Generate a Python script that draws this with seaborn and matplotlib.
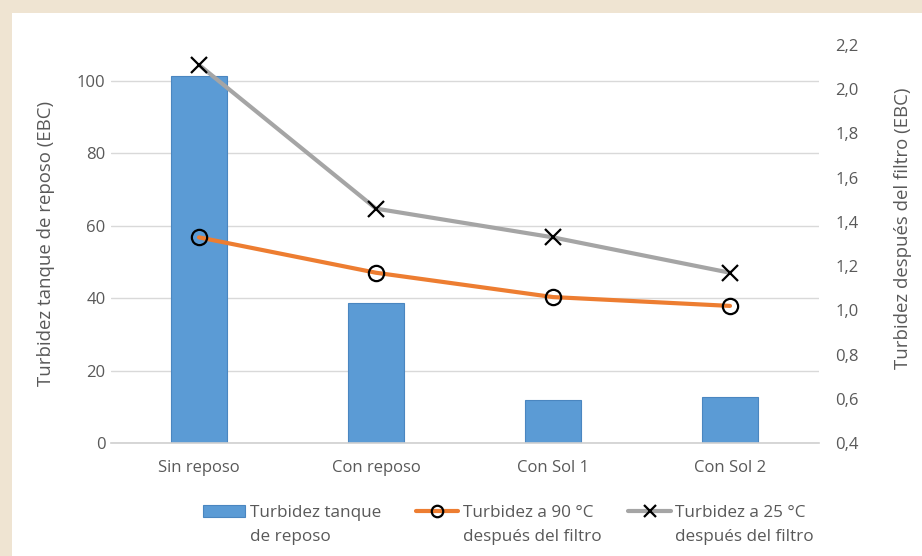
import numpy as np
import pandas as pd
import seaborn as sns
import matplotlib.pyplot as plt
from matplotlib.patches import Rectangle

# data
categories = ["Sin reposo", "Con reposo", "Con Sol 1", "Con Sol 2"]
tanque = [101.2, 38.5, 12.0, 12.8]
filtro_90 = [1.33, 1.17, 1.06, 1.02]
filtro_25 = [2.11, 1.46, 1.33, 1.17]

left_ticks = [0, 20, 40, 60, 80, 100]
right_ticks = [0.4, 0.6, 0.8, 1.0, 1.2, 1.4, 1.6, 1.8, 2.0, 2.2]

# legend labels, split in two lines like the original
legend_first = ["Turbidez tanque", "Turbidez a 90 °C", "Turbidez a 25 °C"]
legend_second = ["de reposo", "después del filtro", "después del filtro"]

BLUE = "#5B9BD5"
ORANGE = "#ED7D31"
GRAY = "#A5A5A5"
TXT = "#595959"
BEIGE = "#EFE4D2"

sns.set_style("white")
plt.rcParams["font.family"] = ["Open Sans", "DejaVu Sans"]

fig = plt.figure(figsize=(9.22, 5.56), dpi=100)
# beige frame on top and left
fig.patches.append(Rectangle((0, 0), 1, 1, transform=fig.transFigure,
                             facecolor=BEIGE, edgecolor="none", zorder=-10))
fig.patches.append(Rectangle((12 / 922, 0), 1, 1 - 13 / 556, transform=fig.transFigure,
                             facecolor="white", edgecolor="none", zorder=-9))

ax = fig.add_axes([110.5 / 922, 113 / 556, 708 / 922, 398 / 556])
ax.set_facecolor("none")

df = pd.DataFrame({"cat": categories, "tanque": tanque})
sns.barplot(data=df, x="cat", y="tanque", color=BLUE, width=0.32,
            edgecolor="#4A86C0", linewidth=0.8, saturation=1, ax=ax,
            label=legend_first[0])

ax.set_ylim(0, 109.8)
ax.set_xlim(-0.5, 3.5)
ax.set_yticks(left_ticks)
ax.grid(axis="y", color="#D9D9D9", linewidth=1)
ax.set_axisbelow(True)
for s in ["top", "right", "left"]:
    ax.spines[s].set_visible(False)
ax.spines["bottom"].set_color("#D0D0D0")
ax.spines["bottom"].set_linewidth(1.2)
ax.tick_params(axis="both", length=0, colors=TXT, labelsize=12)
ax.tick_params(axis="x", pad=12)
ax.set_xlabel("")
ax.set_ylabel("Turbidez tanque de reposo (EBC)", color=TXT, fontsize=13.4, labelpad=16)

ax2 = ax.twinx()
xpos = np.arange(len(categories))
sns.lineplot(x=xpos, y=filtro_90, color=ORANGE, linewidth=3, marker="o",
             markersize=11, markerfacecolor="none", markeredgecolor="black",
             markeredgewidth=1.6, ax=ax2, label=legend_first[1])
sns.lineplot(x=xpos, y=filtro_25, color=GRAY, linewidth=3, marker="x",
             markersize=11, markeredgecolor="black", markeredgewidth=1.6,
             ax=ax2, label=legend_first[2])
ax2.set_ylim(0.4, 2.2)
ax2.set_yticks(right_ticks)
ax2.set_yticklabels([f"{t:.1f}".replace(".", ",") for t in right_ticks])
for s in ["top", "right", "left", "bottom"]:
    ax2.spines[s].set_visible(False)
ax2.tick_params(axis="y", length=0, colors=TXT, labelsize=12, pad=12)
ax2.set_ylabel("Turbidez después del filtro (EBC)", color=TXT, fontsize=13.4)
ax2.yaxis.set_label_coords(1.107, 0.54)
ax2.grid(False)
ax2.get_legend().remove()

h1, l1 = ax.get_legend_handles_labels()
h2, l2 = ax2.get_legend_handles_labels()
leg = ax.legend(h1 + h2, l1 + l2, loc="upper center", bbox_to_anchor=(0.556, -0.117),
                ncol=3, frameon=False, fontsize=12.3, labelcolor=TXT, markerscale=0.75,
                handlelength=2.5, handletextpad=0.25, columnspacing=2.05)

# second line of each legend label sits under the first one
fig.canvas.draw()
for t, second in zip(leg.get_texts(), legend_second):
    x, y = t.get_transform().transform((0, 0))
    fig.text(x / fig.bbox.width, (y - 24) / fig.bbox.height, second,
             ha="left", va="baseline", fontsize=12.3, color=TXT)

fig.savefig("out.png", dpi=100)
